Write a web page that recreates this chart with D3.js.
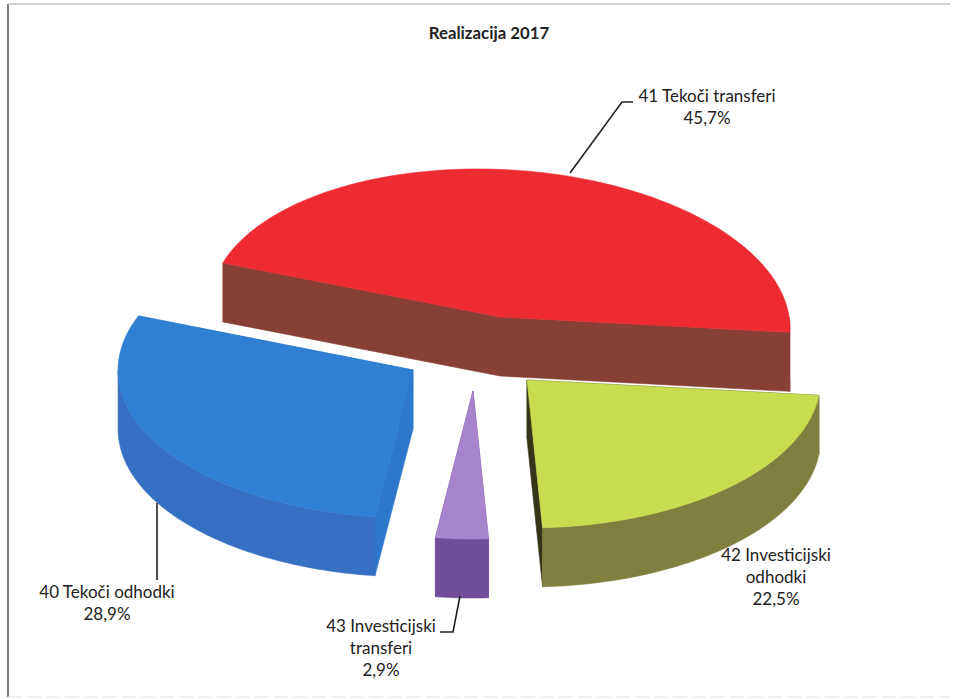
<!DOCTYPE html>
<html>
<head>
<meta charset="utf-8">
<script src="https://cdn.jsdelivr.net/npm/d3@7"></script>
<style>
html,body{margin:0;padding:0;background:#fff;}
svg{display:block;}
text{font-family:Lato,"Open Sans",sans-serif;fill:#222;}
</style>
</head>
<body>
<svg id="chart" width="956" height="699"></svg>
<script>
const titleText = "Realizacija 2017";
const categories = ["40 Tekoči odhodki", "41 Tekoči transferi", "42 Investicijski odhodki", "43 Investicijski transferi"];
const values = [28.9, 45.7, 22.5, 2.9];
const percentLabels = ["28,9%", "45,7%", "22,5%", "2,9%"];

// styling / layout
const topColors  = ["#2f80d2", "#ee2a33", "#c8dc4f", "#a884cc"];
const wallColors = ["#3570c2", "#864034", "#7f7f3f", "#6f4d98"];
const cutColors  = ["#2e78cc", "#864034", "#35351a", "#6f4d98"];
const tipX = [413, 500, 527, 473];
const tipY = [370, 317, 380, 391];
const shear = [0, 0.15, 0, 0];
const radiusFactor = [1.01, 0.99, 1.005, 1];
const drawOrder = [1, 0, 2, 3];
const depth = 59;
const startDeg = 187.4;

const svg = d3.select("#chart");

// frame
svg.append("line").attr("x1",8).attr("x2",8).attr("y1",4).attr("y2",697).attr("stroke","#555").attr("stroke-width",1.6);
svg.append("line").attr("x1",8).attr("x2",950).attr("y1",4).attr("y2",4).attr("stroke","#c4c4c4").attr("stroke-width",1.4);
svg.append("line").attr("x1",8).attr("x2",950).attr("y1",697).attr("y2",697).attr("stroke","#e2e2e2").attr("stroke-width",1.2).attr("stroke-dasharray","14 5");

const start = startDeg * Math.PI / 180;
const arcs = d3.pie().sort(null).startAngle(start).endAngle(start + 2 * Math.PI)(values);

const sx = d3.scaleLinear().domain([-1, 1]).range([-292, 292]);
const sy = d3.scaleLinear().domain([-1, 1]).range([-148, 148]);
const line = d3.line();

function pt(i, angle, r, z) {
  const ux = sx(r * radiusFactor[i] * Math.sin(angle)), uy = sy(-r * Math.cos(angle));
  return [tipX[i] + ux + shear[i] * uy, tipY[i] + uy + z];
}
function rimAngles(a0, a1) {
  const n = Math.max(2, Math.ceil((a1 - a0) / 0.02));
  return d3.range(n + 1).map(k => a0 + (a1 - a0) * k / n);
}

drawOrder.forEach(i => {
  const a = arcs[i];
  const g = svg.append("g");
  // cut faces
  [a.startAngle, a.endAngle].forEach(t => {
    g.append("path")
      .attr("d", line([pt(i,t,0,0), pt(i,t,1,0), pt(i,t,1,depth), pt(i,t,0,depth)]) + "Z")
      .attr("fill", cutColors[i]).attr("stroke", cutColors[i]).attr("stroke-width", 0.6);
  });
  // outer wall on the near half of the ellipse
  const period = Math.floor((a.startAngle - Math.PI / 2) / (2 * Math.PI));
  [period, period + 1].forEach(p => {
    const lo = Math.max(a.startAngle, Math.PI / 2 + p * 2 * Math.PI);
    const hi = Math.min(a.endAngle, 3 * Math.PI / 2 + p * 2 * Math.PI);
    if (hi > lo) {
      const ts = rimAngles(lo, hi);
      const pts = ts.map(t => pt(i,t,1,0)).concat(ts.slice().reverse().map(t => pt(i,t,1,depth)));
      g.append("path").attr("d", line(pts) + "Z")
        .attr("fill", wallColors[i]).attr("stroke", wallColors[i]).attr("stroke-width", 0.6);
    }
  });
  // top surface
  const rim = rimAngles(a.startAngle, a.endAngle).map(t => pt(i,t,1,0));
  g.append("path").attr("d", line([pt(i,0,0,0)].concat(rim)) + "Z")
    .attr("fill", topColors[i]).attr("stroke", topColors[i]).attr("stroke-width", 0.6);
});

// leader lines
const leaders = [
  [[157,503],[157,580]],
  [[570,173],[622,102],[633,102]],
  [[460,596],[453,632],[440,632]]
];
leaders.forEach(l => svg.append("path").attr("d", line(l)).attr("fill","none").attr("stroke","#222").attr("stroke-width",1.6));

// title
svg.append("text").attr("x",489).attr("y",39).attr("text-anchor","middle")
  .style("font-size","16.8px").style("font-weight","700").text(titleText);

// labels
const labelLines = [
  [categories[0], percentLabels[0]],
  [categories[1], percentLabels[1]],
  ["42 Investicijski", "odhodki", percentLabels[2]],
  ["43 Investicijski", "transferi", percentLabels[3]]
];
const labelX = [107, 707, 776, 381];
const labelY = [598, 102, 561, 632];
const labelGap = 22;
labelLines.forEach((rows, i) => {
  rows.forEach((s, k) => {
    svg.append("text").attr("x", labelX[i]).attr("y", labelY[i] + k * labelGap)
      .attr("text-anchor","middle").style("font-size","17px").text(s);
  });
});
</script>
</body>
</html>
